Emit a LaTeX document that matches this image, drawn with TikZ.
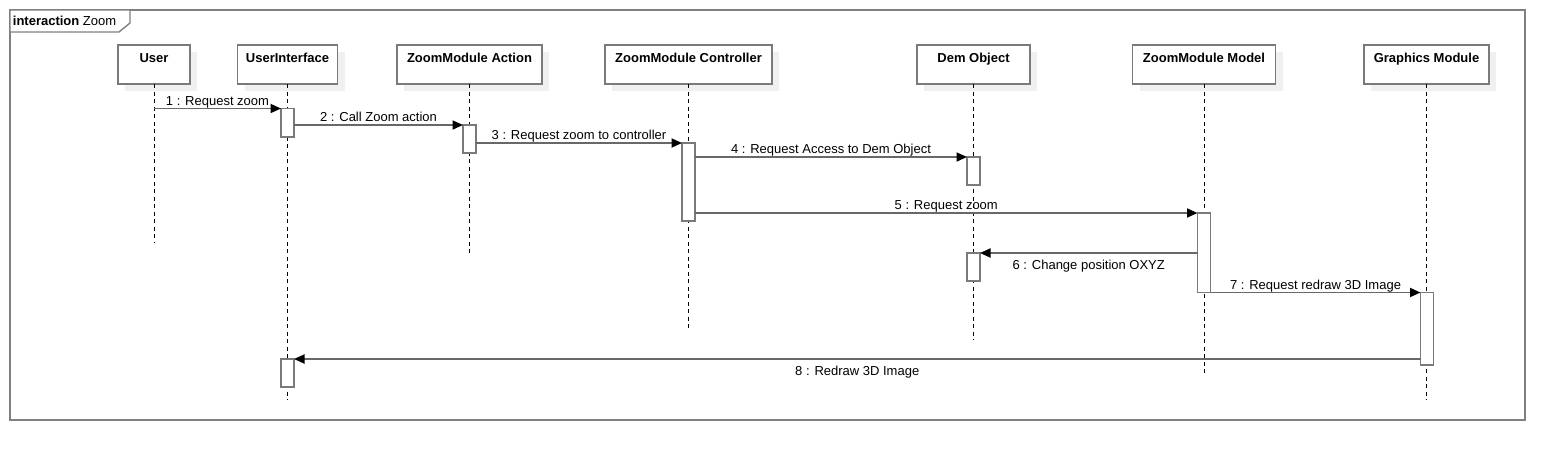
\documentclass[tikz,border=0pt]{standalone}
\usepackage{fontspec}
\setmainfont{Liberation Sans}
\usetikzlibrary{arrows.meta,shadows,calc}
\definecolor{framecol}{HTML}{808080}
\definecolor{boxcol}{HTML}{7A7A7A}
\definecolor{msgcol}{HTML}{686868}
\definecolor{shadowcol}{HTML}{F0F0F0}
\begin{document}
\begin{tikzpicture}[x=1pt,y=-1pt,
  every node/.style={font=\fontsize{13}{15}\selectfont},
  head/.style={draw=boxcol,fill=white,line width=1.4pt,rectangle,anchor=north,outer sep=0pt,
    minimum height=39pt,inner xsep=2pt,inner ysep=8pt,text height=9.5pt,text depth=13.5pt,
    font=\fontsize{13}{15}\selectfont\bfseries,
    drop shadow={shadow xshift=7pt,shadow yshift=-7pt,fill=shadowcol,opacity=1}},
  lifeline/.style={draw=black,line width=0.8pt,dash pattern=on 4pt off 3.5pt},
  act/.style={draw=boxcol,fill=white,line width=1.4pt,rectangle,anchor=north,outer sep=0pt,
    minimum width=13pt,inner sep=0pt},
  msg/.style={draw=msgcol,line width=1.8pt,-{Triangle[length=10.5pt,width=9pt,color=black]}},
  lblabove/.style={anchor=base,yshift=3.5pt,inner sep=0pt},
  lblbelow/.style={anchor=base,yshift=-16pt,inner sep=0pt}
]
\useasboundingbox (0,0) rectangle (1565,461);
% frame
\draw[framecol,line width=1.4pt] (10,10) rectangle (1525,420);
\draw[framecol,line width=1.4pt,fill=white] (10,10) -- (130,10) -- (130,23) -- (119,32) -- (10,32) -- cycle;
\node[anchor=base west,inner sep=0pt] (title) at (12.7,25) {\textbf{interaction} Zoom};

% heads
\node[head,minimum width=72pt]  (user) at (154,45)    {User};
\node[head,minimum width=100pt] (ui)   at (287.5,45)  {UserInterface};
\node[head,minimum width=145pt] (act)  at (469.5,45)  {ZoomModule Action};
\node[head,minimum width=167pt] (ctl)  at (688.5,45)  {ZoomModule Controller};
\node[head,minimum width=113pt] (dem)  at (973.5,45)  {Dem Object};
\node[head,minimum width=143pt] (mdl)  at (1204,45)   {ZoomModule Model};
\node[head,minimum width=125pt] (gfx)  at (1426.5,45) {Graphics Module};

% lifeline ends
\coordinate (userE) at (154,243);
\coordinate (uiE)   at (287.5,400);
\coordinate (actE)  at (469.5,256);
\coordinate (ctlE)  at (688.5,328);
\coordinate (demE)  at (973.5,340);
\coordinate (mdlE)  at (1204,376);
\coordinate (gfxE)  at (1426.5,400);

\draw[lifeline] (user.south) -- (userE);
\draw[lifeline] (ui.south) -- (uiE);
\draw[lifeline] (act.south) -- (actE);
\draw[lifeline] (ctl.south) -- (ctlE);
\draw[lifeline] (dem.south) -- (demE);
\draw[lifeline] (mdl.south) -- (mdlE);
\draw[lifeline] (gfx.south) -- (gfxE);

% activations
\node[act,minimum height=28.5pt] (ui1) at (287.5,108.5) {};
\node[act,minimum height=28pt]   (ac1) at (469.5,125)   {};
\node[act,minimum height=78pt]   (ct1) at (688.5,143)   {};
\node[act,minimum height=28pt]   (dm1) at (973.5,157)   {};
\node[act,minimum height=79.5pt] (md1) at (1204,213)    {};
\node[act,minimum height=28pt]   (dm2) at (973.5,253)   {};
\node[act,minimum height=72.5pt] (gr1) at (1427,292.5)  {};
\node[act,minimum height=28pt]   (ui2) at (287.5,359)   {};

% messages
\coordinate (m1s) at (154,108.5);
\draw[msg] (m1s) -- (ui1.north west) node[midway,lblabove] {1 : Request zoom};
\draw[msg] (ui1.east |- ac1.north) -- (ac1.north west) node[midway,lblabove] {2 : Call Zoom action};
\draw[msg] (ac1.east |- ct1.north) -- (ct1.north west) node[midway,lblabove] {3 : Request zoom to controller};
\draw[msg] (ct1.east |- dm1.north) -- (dm1.north west) node[midway,lblabove] {4 : Request Access to Dem Object};
\draw[msg] (ct1.east |- md1.north) -- (md1.north west) node[midway,lblabove] {5 : Request zoom};
\draw[msg] (md1.west |- dm2.north) -- (dm2.north east) node[midway,lblbelow] {6 : Change position OXYZ};
\draw[msg] (md1.south east) -- (gr1.north west) node[midway,lblabove] {7 : Request redraw 3D Image};
\draw[msg] (gr1.west |- ui2.north) -- (ui2.north east) node[midway,lblbelow] {8 : Redraw 3D Image};
\end{tikzpicture}
\end{document}
